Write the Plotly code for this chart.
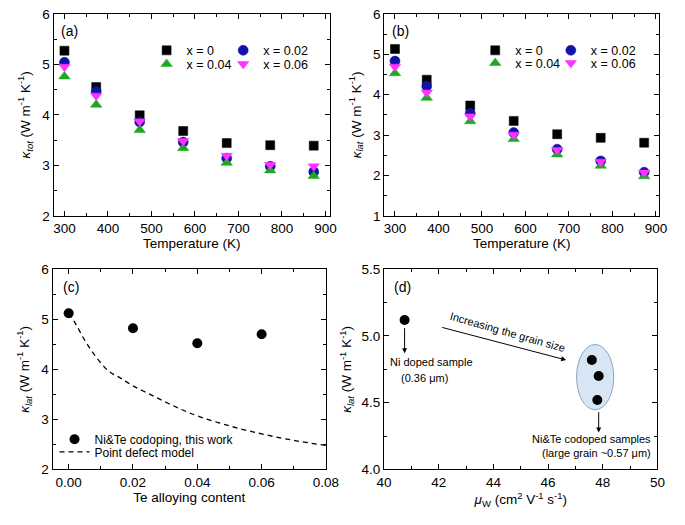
import plotly.graph_objects as go

# ---------------- data ----------------
temps = [300, 373, 473, 573, 673, 773, 873]
series_names = ["x = 0", "x = 0.02", "x = 0.04", "x = 0.06"]

k_tot_x0 = [5.27, 4.55, 3.99, 3.68, 3.44, 3.40, 3.39]
k_tot_x002 = [5.04, 4.46, 3.86, 3.46, 3.14, 2.98, 2.87]
k_tot_x004 = [4.76, 4.20, 3.70, 3.34, 3.05, 2.90, 2.79]
k_tot_x006 = [4.95, 4.38, 3.87, 3.48, 3.19, 3.01, 2.98]

k_lat_x0 = [5.13, 4.37, 3.73, 3.35, 3.02, 2.93, 2.81]
k_lat_x002 = [4.83, 4.21, 3.54, 3.06, 2.65, 2.36, 2.08]
k_lat_x004 = [4.53, 3.92, 3.34, 2.90, 2.52, 2.24, 1.98]
k_lat_x006 = [4.69, 4.05, 3.46, 3.01, 2.63, 2.34, 2.07]

te_content = [0.00, 0.02, 0.04, 0.06]
k_lat_300 = [5.12, 4.82, 4.52, 4.70]

model_x = [0.0, 0.002, 0.005, 0.0085, 0.0125, 0.016, 0.02, 0.025, 0.03, 0.035, 0.04, 0.05, 0.06, 0.07, 0.08]
model_k = [5.12, 4.93, 4.58, 4.25, 3.96, 3.83, 3.67, 3.51, 3.35, 3.20, 3.07, 2.87, 2.71, 2.58, 2.48]

mu_w_ni = [40.75]
k_lat_ni = [5.12]
mu_w_codoped = [47.6, 47.85, 47.8]
k_lat_codoped = [4.82, 4.70, 4.52]

# ---------------- style ----------------
FONT = "Arial, 'Liberation Sans', sans-serif"
colors = ["#000000", "#1212a8", "#1fa81f", "#ff33ff"]
symbols = ["square", "circle", "triangle-up", "triangle-down"]
sizes = [9, 10, 10, 10]

fig = go.Figure()

top_sets = [
    ("x", "y", [k_tot_x0, k_tot_x002, k_tot_x004, k_tot_x006], ["legend", "legend2", "legend3", "legend4"]),
    ("x2", "y2", [k_lat_x0, k_lat_x002, k_lat_x004, k_lat_x006], ["legend5", "legend6", "legend7", "legend8"]),
]
for xa, ya, sets, legs in top_sets:
    for i, vals in enumerate(sets):
        fig.add_trace(go.Scatter(
            x=temps, y=vals, mode="markers", name=series_names[i],
            xaxis=xa, yaxis=ya, legend=legs[i],
            marker=dict(symbol=symbols[i], size=sizes[i], color=colors[i],
                        line=dict(width=0.5, color=colors[i])),
        ))

fig.add_trace(go.Scatter(
    x=te_content, y=k_lat_300, mode="markers", name="Ni&Te codoping, this work",
    xaxis="x3", yaxis="y3", legend="legend9",
    marker=dict(symbol="circle", size=10, color="black"),
))
fig.add_trace(go.Scatter(
    x=model_x, y=model_k, mode="lines", name="Point defect model",
    xaxis="x3", yaxis="y3", legend="legend10", line_shape="spline",
    line=dict(color="black", width=1.3, dash="5px,4px"),
))
fig.add_trace(go.Scatter(
    x=mu_w_ni + mu_w_codoped, y=k_lat_ni + k_lat_codoped, mode="markers",
    xaxis="x4", yaxis="y4", showlegend=False,
    marker=dict(symbol="circle", size=10, color="black"),
))

W, H = 685, 525
def dx(a, b):
    return [a / W, b / W]
def dy(top, bot):
    return [1 - bot / H, 1 - top / H]

axis_common = dict(
    showline=True, linecolor="black", linewidth=1, mirror="allticks",
    ticks="inside", ticklen=5, tickwidth=1, tickcolor="black",
    showgrid=False, zeroline=False,
    tickfont=dict(family=FONT, size=13.5, color="black"),
    title_font=dict(family=FONT, size=13.5, color="black"),
)
def minor(d):
    return dict(dtick=d, ticks="inside", ticklen=3, tickwidth=1, tickcolor="black", showgrid=False)

klat = "<i>κ</i><sub><i>lat</i></sub> (W m<sup>-1</sup> K<sup>-1</sup>)"
ktot = "<i>κ</i><sub><i>tot</i></sub> (W m<sup>-1</sup> K<sup>-1</sup>)"

fig.update_layout(
    width=W, height=H, margin=dict(l=0, r=0, t=0, b=0),
    paper_bgcolor="white", plot_bgcolor="white",
    font=dict(family=FONT, color="black"),
    xaxis=dict(domain=dx(47, 332), anchor="y", range=[275, 910], dtick=100, minor=minor(50),
               title=dict(text="Temperature (K)", standoff=2), **axis_common),
    yaxis=dict(domain=dy(7, 215), anchor="x", range=[2, 6], dtick=1, minor=minor(0.5),
               title=dict(text=ktot, standoff=8), **axis_common),
    xaxis2=dict(domain=dx(388, 672), anchor="y2", range=[275, 908], dtick=100, minor=minor(50),
                title=dict(text="Temperature (K)", standoff=2), **axis_common),
    yaxis2=dict(domain=dy(7, 215), anchor="x2", range=[1, 6], dtick=1, minor=minor(0.5),
                title=dict(text=klat, standoff=8), **axis_common),
    xaxis3=dict(domain=dx(46, 328), anchor="y3", range=[-0.005, 0.08], dtick=0.02, minor=minor(0.01),
                tickformat=".2f", title=dict(text="Te alloying content", standoff=2), **axis_common),
    yaxis3=dict(domain=dy(270, 476), anchor="x3", range=[2, 6], dtick=1, minor=minor(0.5),
                title=dict(text=klat, standoff=8), **axis_common),
    xaxis4=dict(domain=dx(388, 670), anchor="y4", range=[40, 50], dtick=2, minor=minor(1),
                title=dict(text="<i>μ</i><sub>W</sub> (cm<sup>2</sup> V<sup>-1</sup> s<sup>-1</sup>)", standoff=4),
                **axis_common),
    yaxis4=dict(domain=dy(270, 476), anchor="x4", range=[4.0, 5.5], dtick=0.5, minor=minor(0.25),
                tickformat=".1f", title=dict(text=klat, standoff=6), **axis_common),
)

# legends: one per entry so rows can sit tight like the reference
def leg(left, my, size=12.5):
    return dict(x=left / W, y=1 - my / H, xanchor="left", yanchor="middle",
                bgcolor="rgba(0,0,0,0)", borderwidth=0,
                font=dict(family=FONT, size=size, color="black"), itemwidth=30)

fig.update_layout(
    legend=leg(143, 45), legend2=leg(222, 45), legend3=leg(143, 59), legend4=leg(222, 59),
    legend5=leg(482, 45), legend6=leg(560, 45), legend7=leg(482, 58), legend8=leg(560, 58),
    legend9=leg(48, 445, 12), legend10=leg(48, 458, 12),
)

# panel labels
for ref, lab, px, py in [("x", "(a)", 0.02, 0.915), ("x2", "(b)", 0.02, 0.915),
                         ("x3", "(c)", 0.03, 0.91), ("x4", "(d)", 0.03, 0.91)]:
    yref = ref.replace("x", "y")
    fig.add_annotation(xref=f"{ref} domain", yref=f"{yref} domain", x=px, y=py,
                       text=lab, showarrow=False, xanchor="left", yanchor="middle",
                       font=dict(family=FONT, size=14, color="black"))

# panel (d) decorations
fig.add_shape(type="circle", xref="x4", yref="y4", x0=47.04, x1=48.40, y0=4.447, y1=4.936,
              fillcolor="#d8e6f3", line=dict(color="#8aa6c4", width=1), layer="below")

arrow = dict(showarrow=True, arrowhead=2, arrowsize=1, arrowwidth=1, arrowcolor="black",
             xref="x4", yref="y4", axref="x4", ayref="y4", text="")
fig.add_annotation(x=40.75, y=4.87, ax=40.75, ay=5.07, **arrow)
fig.add_annotation(x=46.66, y=4.82, ax=42.07, ay=5.067, **arrow)
fig.add_annotation(x=47.85, y=4.277, ax=47.85, ay=4.44, **arrow)

afont = dict(family=FONT, size=11, color="black")
fig.add_annotation(xref="x4", yref="y4", x=44.52, y=5.03, text="Increasing the grain size",
                   textangle=16, showarrow=False, font=afont)
fig.add_annotation(xref="x4", yref="y4", x=40.15, y=4.807, text="Ni doped sample",
                   showarrow=False, xanchor="left", font=afont)
fig.add_annotation(xref="x4", yref="y4", x=40.53, y=4.685, text="(0.36 μm)",
                   showarrow=False, xanchor="left", font=afont)
fig.add_annotation(xref="x4", yref="y4", x=49.82, y=4.228, text="Ni&Te codoped samples",
                   showarrow=False, xanchor="right", font=afont)
fig.add_annotation(xref="x4", yref="y4", x=49.82, y=4.121, text="(large grain ~0.57 μm)",
                   showarrow=False, xanchor="right", font=afont)

fig.write_html("out.html")
